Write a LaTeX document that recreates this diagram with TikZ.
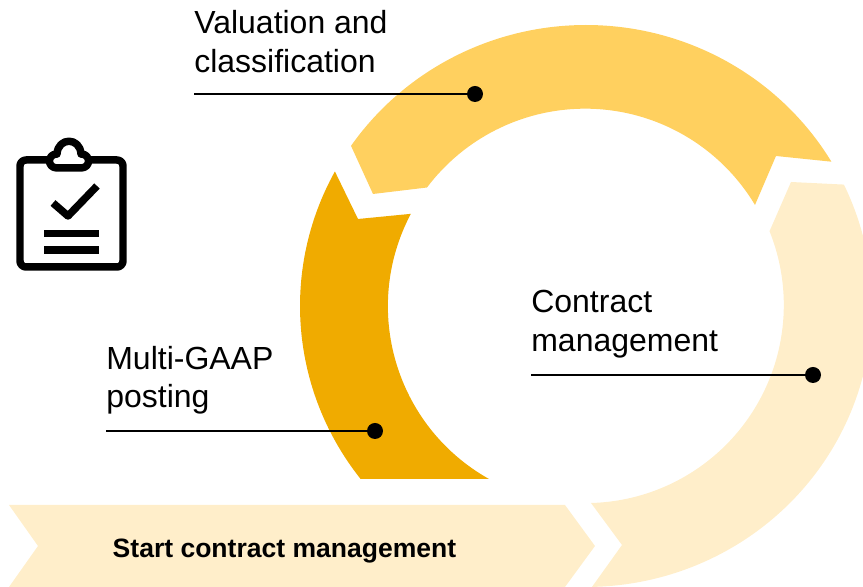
\documentclass[tikz,border=0pt]{standalone}
\usepackage{fontspec}
\setmainfont{Liberation Sans}
\definecolor{gold}{HTML}{F0AB00}
\definecolor{midgold}{HTML}{FFD05F}
\definecolor{palegold}{HTML}{FFEECA}
\definecolor{inkblack}{HTML}{000000}

\begin{document}
\begin{tikzpicture}[x=0.02cm,y=0.02cm,
	caption/.style={anchor=north west,align=left,inner sep=0pt,text=inkblack,font=\fontsize{18.2}{22.1}\selectfont},
	leader/.style={draw=inkblack,line width=1.3pt},
	dot/.style={circle,fill=inkblack,inner sep=0pt,minimum size=0.32cm},
	iconline/.style={draw=inkblack,line width=0.15cm,line join=round}]
	\path[use as bounding box,clip] (0,0) rectangle (863,587);
	\coordinate (c) at (586,281);

	% the three arrows of the ring
	\fill[midgold] (c) ++(145.25:286 and 281) arc[start angle=145.25,end angle=30.9,x radius=286,y radius=281]
		-- (776,431) -- (755,382) arc[start angle=30.9,end angle=143,radius=198] -- (373,393) -- cycle;
	\fill[gold] (c) ++(151.4:286 and 281) arc[start angle=151.4,end angle=218,x radius=286,y radius=281]
		-- (489,108) arc[start angle=240.7,end angle=152.15,radius=198] -- (358,368) -- cycle;
	\fill[palegold] (c) ++(25.6:286 and 281) arc[start angle=25.6,end angle=-88.8,x radius=286,y radius=281]
		-- (622,42) -- (591,84) arc[start angle=-88.5,end angle=21.9,radius=198] -- (791,405) -- cycle;

	\fill[palegold] (9,82) -- (565,82) -- (595,41) -- (565,0) -- (9,0) -- (38,41) -- cycle;
	\node[font=\bfseries\fontsize{15.1}{18}\selectfont,text=inkblack] (start) at (284.5,36) {Start contract management};

	\node[caption] (valuation) at (194,577) {Valuation and\\classification};
	\node[caption] (contract) at (531,297) {Contract\\management};
	\node[caption] (posting) at (106,241.5) {Multi-GAAP\\posting};

	\coordinate (valuationend) at (194,493);
	\coordinate (contractend) at (531,212);
	\coordinate (postingend) at (106,156);
	\node[dot] (valuationdot) at (475,493) {};
	\node[dot] (contractdot) at (813,212) {};
	\node[dot] (postingdot) at (375,156) {};
	\draw[leader] (valuationend) -- (valuationdot);
	\draw[leader] (contractend) -- (contractdot);
	\draw[leader] (postingend) -- (postingdot);

	% clipboard
	\draw[iconline,rounded corners=0.12cm] (20,427) rectangle (123,320);
	\draw[iconline,fill=white] (57,419) .. controls (47,419) and (47,433) .. (57,433)
		.. controls (58,450) and (80,450) .. (81,433)
		.. controls (91,433) and (91,419) .. (81,419) -- cycle;
	\draw[iconline] (53,384) -- (68,371) -- (97,401);
	\draw[iconline] (44,353.5) -- (99,353.5);
	\draw[iconline] (44,337) -- (99,337);
\end{tikzpicture}
\end{document}
